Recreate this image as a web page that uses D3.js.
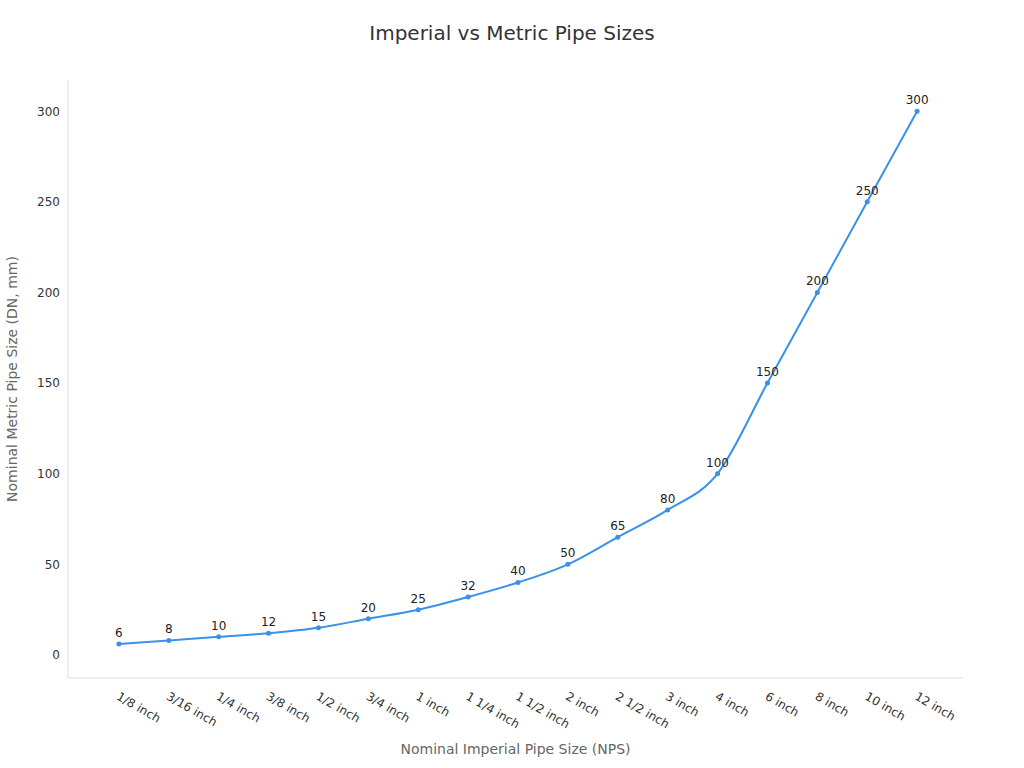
<!DOCTYPE html>
<html><head><meta charset="utf-8">
<script src="https://cdn.jsdelivr.net/npm/d3@7"></script>
<style>body{margin:0;background:#fff;font-family:"DejaVu Sans",sans-serif}</style>
</head><body><svg id="c" width="1024" height="768"></svg>
<script>
const categories=["1/8 inch","3/16 inch","1/4 inch","3/8 inch","1/2 inch","3/4 inch","1 inch","1 1/4 inch","1 1/2 inch","2 inch","2 1/2 inch","3 inch","4 inch","6 inch","8 inch","10 inch","12 inch"];
const values=[6,8,10,12,15,20,25,32,40,50,65,80,100,150,200,250,300];
const yTicks=[0,50,100,150,200,250,300];
const svg=d3.select("#c");
const L=68,R=963,T=80,B=678;
const x=d3.scalePoint().domain(categories).range([L+1,R+4]).padding(1);
const y=d3.scaleLinear().domain([-12.7,317.2]).range([B,T]);
svg.append("text").attr("x",512).attr("y",40).attr("text-anchor","middle").attr("font-size",20).attr("fill","#333").text("Imperial vs Metric Pipe Sizes");
svg.append("line").attr("x1",L).attr("x2",L).attr("y1",T).attr("y2",B).attr("stroke","#ddd");
svg.append("line").attr("x1",L).attr("x2",R).attr("y1",B).attr("y2",B).attr("stroke","#ddd");
const yg=svg.append("g").attr("transform",`translate(${L},0)`).call(d3.axisLeft(y).tickValues(yTicks).tickSize(0).tickPadding(8));
yg.select(".domain").remove();
yg.selectAll("text").attr("font-size",12).attr("fill","#333").attr("font-family","DejaVu Sans");
const xg=svg.append("g").attr("transform",`translate(0,${B})`).call(d3.axisBottom(x).tickSize(0));
xg.select(".domain").remove();
xg.selectAll("text").attr("font-size",12).attr("fill","#333").attr("font-family","DejaVu Sans")
  .attr("text-anchor","start").attr("transform","translate(2,11) rotate(30)").attr("dy","0.7em");
svg.append("text").attr("x",(L+R)/2).attr("y",754).attr("text-anchor","middle").attr("font-size",14).attr("fill","#666").text("Nominal Imperial Pipe Size (NPS)");
svg.append("text").attr("transform",`translate(17,${(T+B)/2}) rotate(-90)`).attr("text-anchor","middle").attr("font-size",14).attr("fill","#666").text("Nominal Metric Pipe Size (DN, mm)");
const data=categories.map((c,i)=>({c,v:values[i]}));
svg.append("path").datum(data).attr("fill","none").attr("stroke","#3a91e8").attr("stroke-width",2)
 .attr("d",d3.line().x(d=>x(d.c)).y(d=>y(d.v)).curve(d3.curveMonotoneX));
svg.selectAll("circle.p").data(data).enter().append("circle").attr("cx",d=>x(d.c)).attr("cy",d=>y(d.v)).attr("r",2.5).attr("fill","#3a91e8");
svg.selectAll("text.l").data(data).enter().append("text").attr("x",d=>x(d.c)).attr("y",d=>y(d.v)-7).attr("text-anchor","middle").attr("font-size",12).attr("fill","#222").text(d=>d.v);
</script></body></html>
